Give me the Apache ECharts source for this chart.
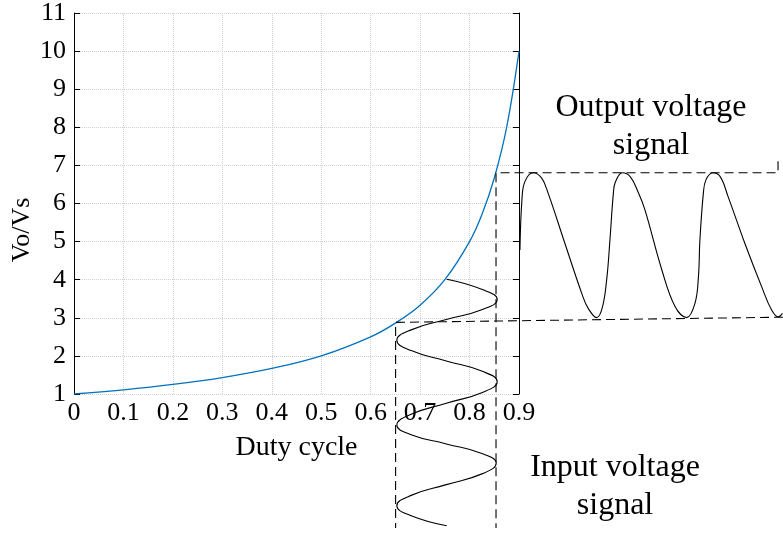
<!DOCTYPE html>
<html>
<head>
<meta charset="utf-8">
<title>Duty cycle vs Vo/Vs</title>
<script src="https://cdn.jsdelivr.net/npm/echarts@6/dist/echarts.min.js"></script>
<style>
  html, body { margin: 0; padding: 0; background: #fff; }
  #chart { width: 783px; height: 536px; }
</style>
</head>
<body>
<div id="chart"></div>
<script>
// gain curve: [duty cycle, Vo/Vs]
var gainCurve = [
  [0, 1], [0.1, 1.11], [0.2, 1.25], [0.3, 1.43], [0.4, 1.67], [0.5, 2.0],
  [0.6, 2.5], [0.65, 2.86], [0.7, 3.33], [0.75, 4.0], [0.8, 5.0],
  [0.825, 5.71], [0.85, 6.67], [0.875, 8.0], [0.9, 10.0]
];
// input sine (drawn downwards below the axis), [duty, level]
var inputWave = [
  [0.754, 3.99], [0.826, 3.72], [0.856, 3.46], [0.826, 3.20], [0.753, 2.94],
  [0.682, 2.67], [0.653, 2.40], [0.682, 2.13], [0.753, 1.86], [0.826, 1.59],
  [0.856, 1.32], [0.826, 1.04], [0.753, 0.76], [0.682, 0.47], [0.653, 0.19],
  [0.682, -0.06], [0.753, -0.30], [0.825, -0.55], [0.854, -0.80], [0.825, -1.08],
  [0.753, -1.36], [0.682, -1.64], [0.653, -1.91], [0.682, -2.17], [0.754, -2.43]
];
// output wave (drawn to the right of the axis), [same x scale, Vo/Vs]
var outputWave = [
  [0.902, 4.75], [0.906, 6.05], [0.912, 6.53], [0.929, 6.76], [0.946, 6.62],
  [0.959, 6.23], [0.993, 4.92], [1.027, 3.62], [1.040, 3.23], [1.057, 2.99],
  [1.069, 3.27], [1.078, 4.05], [1.084, 5.01], [1.091, 6.23], [1.095, 6.52],
  [1.109, 6.76], [1.125, 6.66], [1.141, 6.26], [1.155, 5.79], [1.189, 4.23],
  [1.216, 3.27], [1.239, 2.99], [1.256, 3.36], [1.263, 4.05], [1.266, 5.01],
  [1.273, 6.23], [1.278, 6.57], [1.292, 6.76], [1.307, 6.66], [1.323, 6.14],
  [1.357, 4.92], [1.391, 3.79], [1.411, 3.19], [1.425, 3.01], [1.433, 3.10]
];
// dashed guide lines
var lowGuide = [[1.434, 3.0], [0.6505, 2.865], [0.6505, -2.49]];
var highGuide = [[1.424, 7.06], [1.424, 6.76], [0.8536, 6.76], [0.8536, -2.49]];

var xTicks = ['0', '0.1', '0.2', '0.3', '0.4', '0.5', '0.6', '0.7', '0.8', '0.9'];

var font = 'Liberation Serif, Times New Roman, serif';
var gridLine = { show: true, lineStyle: { color: '#d0d0d0', type: 'dotted', width: 1 } };

// the main axes: 0..0.9 over 445px, 1..11 over 384px.
// the overlay grid reaches the canvas edge with the same scale,
// so its ranges run past the main ones
var overlayXMax = 709 / 494.4;
var overlayYMin = 11 - 526 / 38.4;

var myChart = echarts.init(document.getElementById('chart'));
myChart.setOption({
  animation: false,
  grid: [
    { left: 74, right: 264, top: 10, bottom: 142 },
    { left: 74, right: 0, top: 10, bottom: 0 }
  ],
  xAxis: [
    {
      type: 'value',
      gridIndex: 0,
      min: 0,
      max: 0.9,
      interval: 0.1,
      axisLine: { show: false },
      axisTick: { show: false },
      splitLine: gridLine,
      axisLabel: {
        margin: 6,
        color: '#000',
        fontFamily: font,
        fontSize: 26,
        formatter: function (v) { return xTicks[Math.round(v * 10)]; }
      },
      name: 'Duty cycle',
      nameLocation: 'middle',
      nameGap: 40,
      nameTextStyle: { color: '#000', fontFamily: font, fontSize: 28 }
    },
    {
      type: 'value',
      gridIndex: 1,
      min: 0,
      max: overlayXMax,
      show: false
    }
  ],
  yAxis: [
    {
      type: 'value',
      gridIndex: 0,
      min: 1,
      max: 11,
      interval: 1,
      axisLine: { show: true, lineStyle: { color: '#000' } },
      axisTick: { show: true, inside: true, length: 6, lineStyle: { color: '#000' } },
      splitLine: gridLine,
      axisLabel: { margin: 8, color: '#000', fontFamily: font, fontSize: 26 }
    },
    {
      type: 'value',
      gridIndex: 0,
      position: 'right',
      min: 1,
      max: 11,
      interval: 1,
      axisLine: { show: true, lineStyle: { color: '#000' } },
      axisTick: { show: true, inside: true, length: 6, lineStyle: { color: '#000' } },
      splitLine: { show: false },
      axisLabel: { show: false }
    },
    {
      type: 'value',
      gridIndex: 1,
      min: overlayYMin,
      max: 11,
      show: false
    }
  ],
  graphic: [
    {
      type: 'text', x: 22, y: 230,
      rotation: Math.PI / 2,
      style: { text: 'Vo/Vs', fill: '#000', font: '26px ' + font, textAlign: 'center', textVerticalAlign: 'middle' }
    },
    {
      type: 'text', x: 651, y: 127,
      style: { text: 'Output voltage\nsignal', fill: '#000', font: '32px ' + font, lineHeight: 38, textAlign: 'center', textVerticalAlign: 'middle' }
    },
    {
      type: 'text', x: 615, y: 487,
      style: { text: 'Input voltage\nsignal', fill: '#000', font: '32px ' + font, lineHeight: 38, textAlign: 'center', textVerticalAlign: 'middle' }
    }
  ],
  series: [
    {
      type: 'line', data: gainCurve, smooth: 0.4, showSymbol: false,
      xAxisIndex: 0, yAxisIndex: 0,
      lineStyle: { color: '#0072BD', width: 1.3 }
    },
    {
      type: 'line', data: inputWave, smooth: 0.5, showSymbol: false, clip: false,
      xAxisIndex: 1, yAxisIndex: 2,
      lineStyle: { color: '#000', width: 1.1 }
    },
    {
      type: 'line', data: outputWave, smooth: 0.4, showSymbol: false, clip: false,
      xAxisIndex: 1, yAxisIndex: 2,
      lineStyle: { color: '#000', width: 1.1 }
    },
    {
      type: 'line', data: lowGuide, showSymbol: false, clip: false,
      xAxisIndex: 1, yAxisIndex: 2,
      lineStyle: { color: '#000', width: 1.1, type: [9, 5] }
    },
    {
      type: 'line', data: highGuide, showSymbol: false, clip: false,
      xAxisIndex: 1, yAxisIndex: 2,
      lineStyle: { color: '#000', width: 1.1, type: [9, 5] }
    }
  ]
});
</script>
</body>
</html>
